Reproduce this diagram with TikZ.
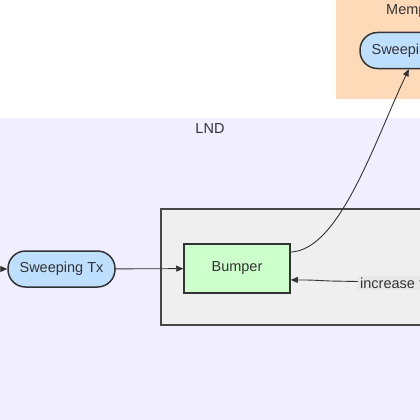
\documentclass[tikz,border=0pt]{standalone}
\usepackage{fontspec}
\setmainfont{Liberation Sans}
\usetikzlibrary{arrows.meta}
\definecolor{lndfill}{HTML}{F1EFFF}
\definecolor{mempfill}{HTML}{FFDAB9}
\definecolor{txfill}{HTML}{BFDFFF}
\definecolor{bumpfill}{HTML}{CCFFCC}
\definecolor{boxfill}{HTML}{EFEFEF}
\definecolor{lblfill}{HTML}{E8E8E8}
\definecolor{ink}{HTML}{333333}
\tikzset{
    txnode/.style={draw=ink, line width=1.5pt, fill=txfill, rounded corners=17.5pt,
        minimum width=107pt, minimum height=36pt, inner sep=0pt, text=ink},
    bumpnode/.style={draw=ink, line width=1.5pt, fill=bumpfill,
        minimum width=106pt, minimum height=49pt, inner sep=0pt, text=ink},
    link/.style={draw=ink, line width=0.9pt, -{Triangle[length=7pt,width=6pt]}},
    cluster/.style={text=ink}
}
\begin{document}
\begin{tikzpicture}[x=1pt, y=-1pt, font=\fontsize{14.5}{17}\selectfont]
    \useasboundingbox (0,0) rectangle (420,420);
    \clip (0,0) rectangle (420,420);
    \fill[white] (0,0) rectangle (420,420);

    % clusters
    \fill[mempfill] (336,-5) rectangle (480,99);
    \node[cluster] (memplabel) at (416,11) {Mempool};
    \fill[lndfill] (-5,118) rectangle (480,430);
    \node[cluster] (lndlabel) at (210,129) {LND};
    \draw[draw=ink!90, line width=1.8pt, fill=boxfill] (161,209) rectangle (480,325);

    % nodes
    \node[txnode] (mempooltx) at (413.5,50.5) {Sweeping Tx};
    \node[txnode] (sweeptx) at (61.5,269) {Sweeping Tx};
    \node[bumpnode] (bumper) at (237,268.5) {Bumper};
    \coordinate (sweepsrc) at (-30,269);
    \coordinate (feesrc) at (440,283);

    % edges
    \draw[link] (sweepsrc) -- (sweeptx);
    \draw[link] (sweeptx) -- (bumper);
    \draw[link] (bumper.17) .. controls (340,250) and (375,140) .. (mempooltx.-104);
    \draw[link] (feesrc) -- (330,281) .. controls (310,280) .. (bumper.-12);
    \node[fill=lblfill, inner sep=2pt, text=ink, anchor=west] (feelabel) at (358,283) {increase fee};
\end{tikzpicture}
\end{document}
